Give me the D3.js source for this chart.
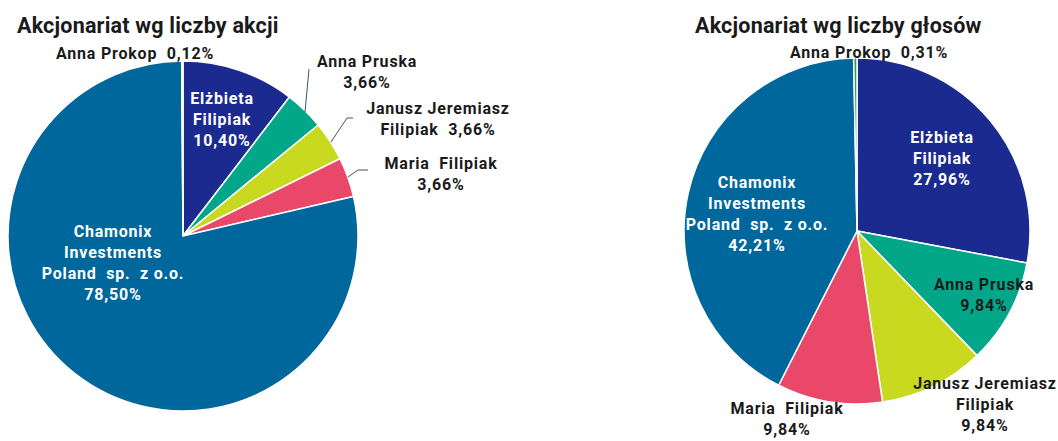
<!DOCTYPE html>
<html>
<head>
<meta charset="utf-8">
<script src="https://cdn.jsdelivr.net/npm/d3@7"></script>
<style>
  body { margin: 0; background: #fff; }
  text { font-family: Roboto, "Noto Sans", sans-serif; font-weight: bold; }
</style>
</head>
<body>
<div id="chart"></div>
<script>
// shareholders, clockwise from 12 o'clock
var holders = ["Elżbieta Filipiak", "Anna Pruska", "Janusz Jeremiasz Filipiak", "Maria Filipiak", "Chamonix Investments Poland sp. z o.o.", "Anna Prokop"];
var sharesPct = [10.40, 3.66, 3.66, 3.66, 78.50, 0.12];
var votesPct = [27.96, 9.84, 9.84, 9.84, 42.21, 0.31];
var sliceColors = ["#1b2a8e", "#02a78a", "#c9d91f", "#e94868", "#00679c", "#2aa05a"];
var titles = ["Akcjonariat wg liczby akcji", "Akcjonariat wg liczby głosów"];

var svgWidth = 1058;
var svgHeight = 441;

var svg = d3.select("#chart")
  .append("svg")
  .attr("width", svgWidth)
  .attr("height", svgHeight);

function fmt(v) {
  return v.toFixed(2).replace(".", ",") + "%";
}

// label layout per chart: "%" in a line gets replaced by the slice value
// {i: slice index, dx, dy: offset of first line from pie centre, lines, fill, leader}
var layouts = [
  {
    cx: 183, cy: 236, r: 175, titleX: 17,
    labels: [
      { i: 0, dx: 39, dy: -138, lines: ["Elżbieta", "Filipiak", "%"], fill: "#fff" },
      { i: 4, dx: -70, dy: -5, lines: ["Chamonix", "Investments", "Poland  sp.  z o.o.", "%"], fill: "#fff" },
      { i: 5, dx: -48, dy: -183, lines: ["Anna Prokop  %"], fill: "#1a1a1a" },
      { i: 1, dx: 184, dy: -175, lines: ["Anna Pruska", "%"], fill: "#1a1a1a",
        leader: [[122, -124], [126, -167]] },
      { i: 2, dx: 255, dy: -128, lines: ["Janusz Jeremiasz", "Filipiak  %"], fill: "#1a1a1a",
        leader: [[148, -94], [164, -118], [170, -118]] },
      { i: 3, dx: 258, dy: -73, lines: ["Maria  Filipiak", "%"], fill: "#1a1a1a",
        leader: [[165, -59], [175, -66], [185, -66]] }
    ]
  },
  {
    cx: 857, cy: 231, r: 173, titleX: 695,
    labels: [
      { i: 0, dx: 85, dy: -94, lines: ["Elżbieta", "Filipiak", "%"], fill: "#fff" },
      { i: 4, dx: -100, dy: -49, lines: ["Chamonix", "Investments", "Poland  sp.  z o.o.", "%"], fill: "#fff" },
      { i: 5, dx: 12, dy: -179, lines: ["Anna Prokop  %"], fill: "#1a1a1a" },
      { i: 1, dx: 127, dy: 53, lines: ["Anna Pruska", "%"], fill: "#1a1a1a" },
      { i: 2, dx: 128, dy: 152, lines: ["Janusz Jeremiasz", "Filipiak", "%"], fill: "#1a1a1a" },
      { i: 3, dx: -70, dy: 177, lines: ["Maria  Filipiak", "%"], fill: "#1a1a1a" }
    ]
  }
];

var pie = d3.pie().sort(null).value(d => d);
var lineHeight = 21;

[sharesPct, votesPct].forEach(function (values, k) {
  var lay = layouts[k];

  svg.append("text")
    .attr("x", lay.titleX)
    .attr("y", 33)
    .attr("font-size", 21.5)
    .attr("letter-spacing", 0.2)
    .attr("fill", "#1a1a1a")
    .text(titles[k]);

  var arc = d3.arc().innerRadius(0).outerRadius(lay.r);

  var g = svg.append("g")
    .attr("transform", `translate(${lay.cx}, ${lay.cy})`);

  g.selectAll("path")
    .data(pie(values))
    .enter()
    .append("path")
    .attr("d", arc)
    .attr("fill", (d, i) => sliceColors[i])
    .attr("stroke", "#fff")
    .attr("stroke-width", 1.5)
    .attr("stroke-linejoin", "round");

  lay.labels.forEach(function (lb) {
    if (lb.leader) {
      g.append("polyline")
        .attr("points", lb.leader.map(p => p.join(",")).join(" "))
        .attr("fill", "none")
        .attr("stroke", "#44546a")
        .attr("stroke-width", 1);
    }
    var t = g.append("text")
      .attr("text-anchor", "middle")
      .attr("font-size", 16)
      .attr("letter-spacing", 0.8)
      .attr("fill", lb.fill);
    lb.lines.forEach(function (ln, j) {
      t.append("tspan")
        .attr("x", lb.dx)
        .attr("y", lb.dy + j * lineHeight + 6)
        .attr("xml:space", "preserve")
        .text(ln.replace("%", fmt(values[lb.i])));
    });
  });
});
</script>
</body>
</html>
